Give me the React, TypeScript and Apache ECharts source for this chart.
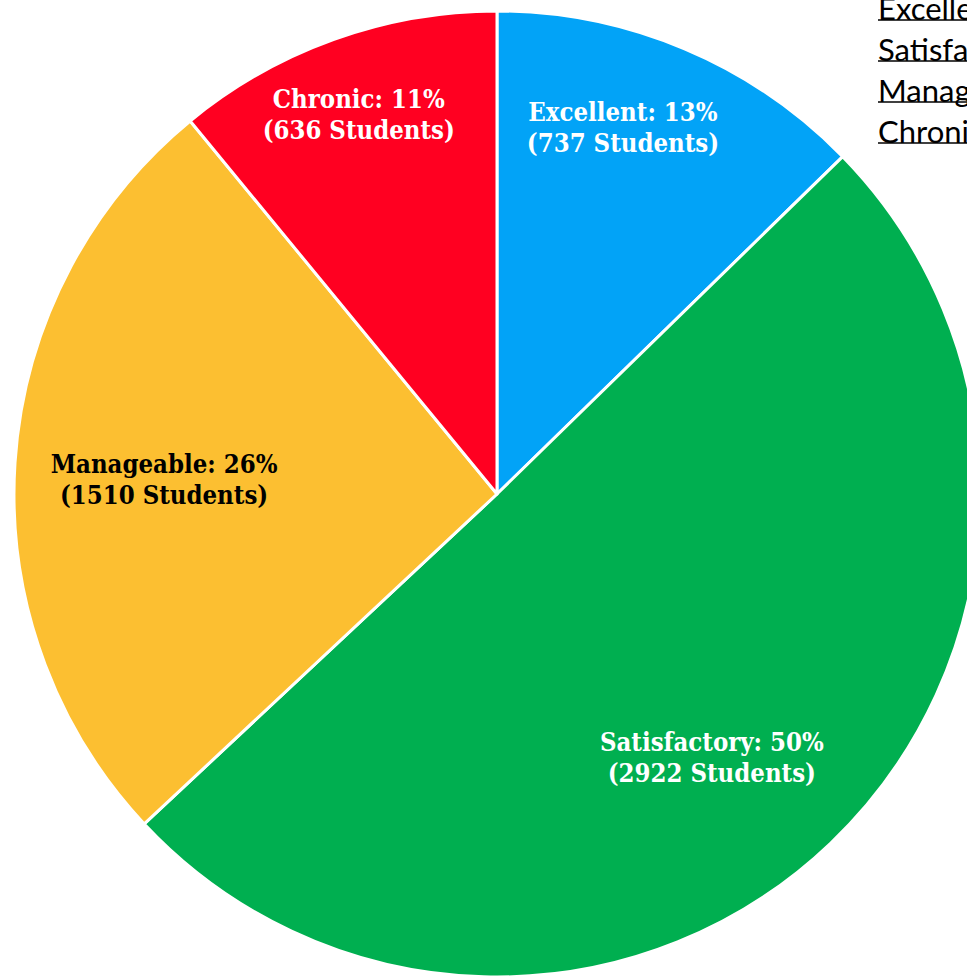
import React, { useEffect, useRef } from "react";
import * as echarts from "echarts";

const categories = ["Excellent", "Satisfactory", "Manageable", "Chronic"];
const percents = [13, 50, 26, 11];
const students = [737, 2922, 1510, 636];
const colors = ["#02A3F7", "#00AF50", "#FCBF31", "#FF0021"];
const labelColors = ["#ffffff", "#ffffff", "#000000", "#ffffff"];

// label placement: radius fraction and angle tweak (degrees) relative to slice mid-angle
const labelRadiusFrac = [0.803, 0.704, 0.69, 0.836];
const labelAngleTweak = [3.9, -4.5, 1.2, 0.3];

const CX = 497;
const CY = 494;
const R = 483;
const LEGEND_ROW = 41;

export default function App() {
  const ref = useRef<HTMLDivElement>(null);
  useEffect(() => {
    document.body.style.margin = "0";
    const chart = echarts.init(ref.current!, null, { renderer: "svg" });
    const total = students.reduce((a, b) => a + b, 0);
    const midAngles: number[] = [];
    let acc = 0;
    students.forEach((v) => {
      const span = (v / total) * 360;
      midAngles.push(90 - (acc + span / 2));
      acc += span;
    });
    const data = categories.map((name, i) => ({
      name,
      value: students[i],
      itemStyle: { color: colors[i] },
      label: { color: labelColors[i] },
    }));
    chart.setOption({
      animation: false,
      backgroundColor: "#ffffff",
      legend: {
        orient: "vertical",
        left: 873,
        top: -13,
        padding: 0,
        icon: "none",
        itemWidth: 0,
        itemHeight: 10,
        itemGap: 0,
        selectedMode: false,
        data: categories,
        textStyle: {
          fontFamily: "Lato",
          fontSize: 31,
          lineHeight: LEGEND_ROW,
          color: "#000",
        },
      },
      graphic: categories.map((_, i) => ({
        type: "line",
        shape: {
          x1: 878,
          y1: 20 + i * LEGEND_ROW,
          x2: 967,
          y2: 20 + i * LEGEND_ROW,
        },
        style: { stroke: "#000", lineWidth: 1.5 },
      })),
      series: [
        {
          type: "pie",
          center: [CX, CY],
          radius: R,
          startAngle: 90,
          clockwise: true,
          data,
          itemStyle: { borderColor: "#ffffff", borderWidth: 3 },
          label: {
            show: true,
            position: "inside",
            formatter: (p: any) =>
              `${p.name}: ${percents[p.dataIndex]}%\n(${students[p.dataIndex]} Students)`,
            fontFamily: "'DejaVu Serif Condensed', 'DejaVu Serif', serif",
            fontWeight: "bold",
            fontSize: 25.5,
            lineHeight: 31,
            align: "center",
          },
          labelLayout: (params: any) => {
            const i = params.dataIndex;
            const a = ((midAngles[i] + labelAngleTweak[i]) * Math.PI) / 180;
            const r = R * labelRadiusFrac[i];
            return {
              x: CX + r * Math.cos(a),
              y: CY - r * Math.sin(a),
              align: "center",
              verticalAlign: "middle",
            };
          },
          labelLine: { show: false },
          emphasis: { disabled: true },
        },
      ],
    });
    return () => chart.dispose();
  }, []);
  return (
    <div
      ref={ref}
      style={{ position: "fixed", left: 0, top: 0, width: 967, height: 976 }}
    />
  );
}
